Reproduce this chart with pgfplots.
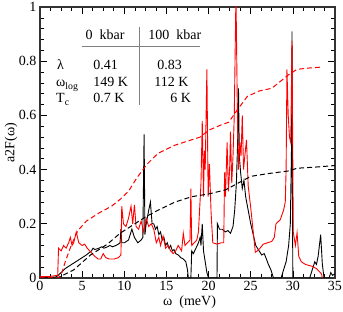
\documentclass[border=0pt]{standalone}
\usepackage{fontspec}
\setmainfont{Liberation Serif}
\usepackage{pgfplots}
\pgfplotsset{compat=1.18}
\begin{document}
\begin{tikzpicture}
\begin{axis}[
  scale only axis, width=295pt, height=271pt,
  xmin=0, xmax=35, ymin=0, ymax=1,
  xtick={0,5,...,35}, ytick={0,0.2,0.4,0.6,0.8,1},
  yticklabels={0,0.2,0.4,0.6,0.8,1},
  minor x tick num=3, minor y tick num=4,
  tick align=inside, major tick length=7pt, minor tick length=4pt,
  tick style={black, line width=0.6pt},
  axis line style={line width=1.1pt, black!80},
  /pgf/number format/assume math mode=true,
  tick label style={font=\fontsize{14}{14}\selectfont},
  xlabel={ω\ \ (meV)}, ylabel={a2F(ω)},
  label style={font=\fontsize{14}{14}\selectfont},
  xlabel style={at={(axis description cs:0.507,-0.089)}, anchor=center},
  ylabel style={at={(axis description cs:-0.098,0.5)}, anchor=center},
  clip=true,
]
% a2F 0 kbar (black)
\addplot[black, line width=0.9pt] coordinates {
(0,0) (1,0.002) (1.9,0.004) (2.1,0.008) (2.5,0.02) (3,0.035) (3.5,0.045) (4,0.055) (4.5,0.065) (5,0.075) (5.5,0.085) (5.9,0.095) (6.1,0.1) (6.3,0.11) (6.5,0.105) (7,0.11) (7.3,0.115) (7.6,0.11) (8,0.115) (8.3,0.12) (8.6,0.115) (9,0.12) (9.3,0.125) (9.5,0.13) (9.6,0.18) (9.7,0.13) (10,0.13) (10.5,0.14) (10.9,0.18) (11.2,0.15) (11.6,0.13) (12,0.14) (12.2,0.15) (12.35,0.53) (12.45,0.16) (12.6,0.2) (12.9,0.25) (13.1,0.28) (13.3,0.2) (13.5,0.2) (13.7,0.18) (13.9,0.19) (14.1,0.16) (14.3,0.17) (14.5,0.14) (14.7,0.15) (14.9,0.12) (15.1,0.13) (15.3,0.11) (15.5,0.12) (15.7,0.1) (15.9,0.105) (16.1,0.09) (16.4,0.085) (16.7,0.075) (17,0.07) (17.3,0.06) (17.5,0.03) (17.6,0.0) (17.9,0.0) (18.0,0.1) (18.2,0.09) (18.5,0.11) (18.8,0.13) (19.0,0.15) (19.1,0.12) (19.25,0.2) (19.4,0.1) (19.6,0.06) (19.8,0.02) (20,0) (21.0,0) (21.05,0.2) (21.3,0.18) (21.6,0.18) (22,0.17) (22.3,0.175) (22.6,0.165) (22.9,0.19) (23.1,0.25) (23.3,0.35) (23.45,0.5) (23.55,0.7) (23.65,0.45) (23.8,0.39) (24.0,0.33) (24.2,0.36) (24.4,0.3) (24.7,0.25) (25,0.2) (25.3,0.16) (25.6,0.12) (26,0.1) (26.3,0.085) (26.6,0.09) (26.8,0.075) (27.1,0.05) (27.4,0.03) (27.7,0) (28.6,0) (28.9,0.03) (29.2,0.06) (29.5,0.12) (29.7,0.2) (29.85,0.5) (29.9,0.91) (29.95,0.3) (30.0,0) (32,0) (32.3,0.03) (32.6,0.06) (32.8,0.05) (33.0,0.08) (33.3,0.16) (33.5,0.05) (33.7,0.0) (34.3,0) (34.5,0.02) (34.7,0.01) (35,0.015)
};
% a2F 100 kbar (red)
\addplot[red, line width=0.9pt] coordinates {
(0,0.005) (1,0.005) (2.1,0.01) (2.2,0.11) (2.5,0.1) (2.8,0.12) (3.1,0.11) (3.4,0.13) (3.6,0.15) (3.8,0.12) (4.0,0.13) (4.3,0.17) (4.6,0.13) (5,0.12) (5.3,0.125) (5.6,0.11) (5.9,0.1) (6.2,0.09) (6.5,0.08) (6.9,0.07) (7.2,0.07) (7.5,0.09) (7.8,0.075) (8.2,0.07) (8.8,0.07) (9.3,0.075) (9.6,0.085) (9.7,0.265) (9.9,0.2) (10.2,0.19) (10.5,0.22) (10.8,0.265) (11.0,0.2) (11.2,0.27) (11.4,0.19) (11.7,0.18) (12.0,0.21) (12.3,0.17) (12.6,0.22) (12.9,0.19) (13.2,0.2) (13.5,0.18) (13.8,0.13) (14.1,0.15) (14.3,0.12) (14.6,0.155) (14.9,0.11) (15.2,0.12) (15.5,0.1) (15.8,0.09) (16.1,0.1) (16.4,0.12) (16.8,0.1) (17.0,0.165) (17.2,0.12) (17.5,0.13) (17.8,0.14) (17.9,0.33) (18.0,0.12) (18.3,0.13) (18.6,0.14) (18.8,0.17) (19.0,0.29) (19.1,0.35) (19.25,0.58) (19.4,0.3) (19.5,0.47) (19.6,0.4) (19.8,0.77) (19.95,0.3) (20.1,0.42) (20.3,0.24) (20.5,0.13) (21,0.125) (21.5,0.13) (21.8,0.13) (21.9,0.39) (22.0,0.3) (22.2,0.5) (22.35,0.32) (22.5,0.4) (22.6,0.54) (22.75,0.35) (22.9,0.45) (23.05,0.6) (23.25,1.05) (23.4,0.66) (23.55,0.4) (23.7,0.5) (23.85,0.45) (24.0,0.6) (24.15,0.4) (24.3,0.45) (24.5,0.51) (24.7,0.34) (25.0,0.26) (25.3,0.17) (25.55,0.095) (25.8,0.1) (26.1,0.11) (26.5,0.125) (27.0,0.13) (27.5,0.135) (27.8,0.15) (28.0,0.2) (28.5,0.215) (28.9,0.25) (29.1,0.28) (29.2,0.4) (29.3,0.77) (29.45,0.6) (29.6,0.52) (29.75,0.5) (29.9,0.876) (30.05,0.17) (30.3,0.12) (30.5,0.167) (30.7,0.08) (31.0,0.06) (31.5,0.05) (32.3,0.043) (32.8,0.035) (33.1,0.025) (33.4,0.015) (33.5,0)
};
% cumulative 0 kbar (black dashed)
\addplot[black, line width=1pt, dash pattern=on 5pt off 3pt] coordinates {
(0,0) (2,0) (2.4,0.005) (4,0.03) (6,0.085) (8,0.125) (9.5,0.165) (11,0.195) (12.5,0.225) (14,0.25) (16,0.28) (18,0.3) (20,0.31) (22,0.325) (23.5,0.35) (25,0.375) (27,0.385) (29.5,0.395) (30.5,0.405) (33,0.41) (35,0.415)
};
% cumulative 100 kbar (red dashed)
\addplot[red, line width=1pt, dash pattern=on 5pt off 3pt] coordinates {
(0,0) (2.2,0) (2.6,0.02) (3,0.06) (3.7,0.12) (4.5,0.175) (5.5,0.21) (7,0.24) (8.5,0.265) (9.5,0.29) (10.5,0.32) (11.5,0.37) (12.7,0.42) (14,0.46) (16,0.49) (17.5,0.505) (19,0.52) (20,0.545) (21.5,0.565) (22.4,0.575) (23.4,0.62) (24.6,0.67) (26,0.69) (27.5,0.70) (28.5,0.725) (29.5,0.75) (30.5,0.77) (32,0.775) (33.3,0.778)
};
% inset table
\draw[gray, line width=0.8pt] (axis cs:4.99,0.854) -- (axis cs:19.02,0.854);
\draw[gray, line width=0.8pt] (axis cs:11.77,0.927) -- (axis cs:11.77,0.638);
\begin{scope}[every node/.style={font=\fontsize{14}{14}\selectfont, inner sep=0pt}]
\node[anchor=base west] at (axis cs:5.4,0.880) {0\ \ kbar};
\node[anchor=base west] at (axis cs:12.84,0.880) {100\ \ kbar};
\node[anchor=base west] at (axis cs:2.02,0.771) {λ};
\node[anchor=base west] at (axis cs:6.30,0.771) {0.41};
\node[anchor=base west] at (axis cs:13.9,0.771) {0.83};
\node[anchor=base west] at (axis cs:1.9,0.705) {ω\textsubscript{log}};
\node[anchor=base west] at (axis cs:6.30,0.705) {149 K};
\node[anchor=base west] at (axis cs:13.55,0.705) {112 K};
\node[anchor=base west] at (axis cs:1.9,0.646) {T\textsubscript{c}};
\node[anchor=base west] at (axis cs:6.30,0.646) {0.7 K};
\node[anchor=base east] at (axis cs:17.95,0.646) {6 K};
\end{scope}
\end{axis}
\pgfresetboundingbox
\path ([xshift=-40pt,yshift=-34pt]current axis.south west) rectangle ([xshift=8pt,yshift=7pt]current axis.north east);
\end{tikzpicture}
\end{document}
